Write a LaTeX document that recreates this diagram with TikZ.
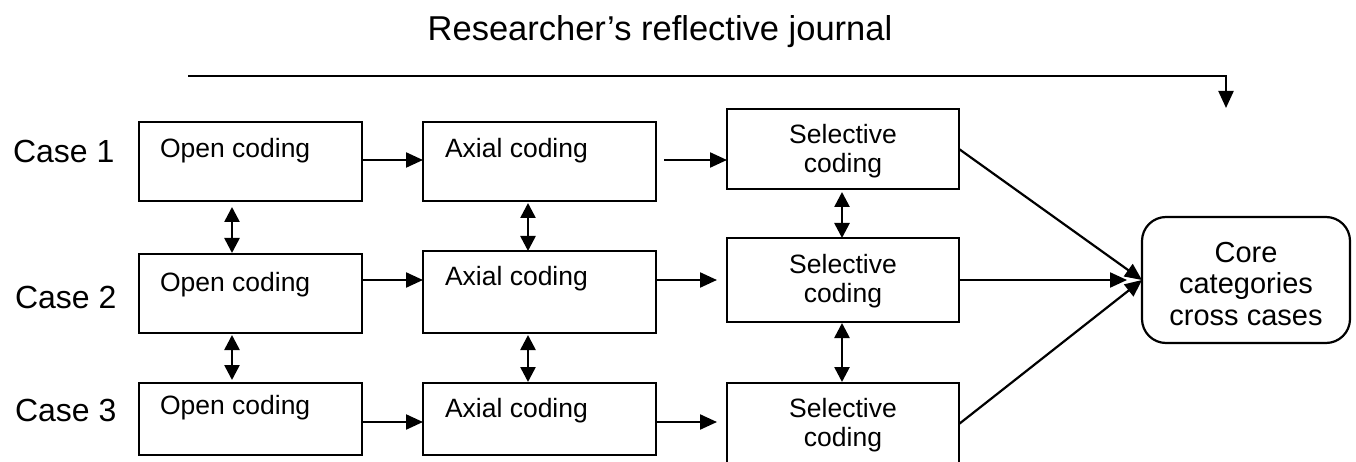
\documentclass[tikz,border=0pt]{standalone}
\usepackage{fontspec}
\setmainfont{Liberation Sans}
\usetikzlibrary{arrows.meta,calc}
\begin{document}
\begin{tikzpicture}[x=1pt,y=-1pt,
  every node/.style={outer sep=0pt},
  box/.style={draw, line width=2.2pt, inner sep=0pt, anchor=north west},
  boxtext/.style={font=\fontsize{26.5}{29}\selectfont, anchor=base west, inner sep=0pt},
  seltext/.style={font=\fontsize{26.5}{29}\selectfont, align=center, inner sep=0pt},
  casetext/.style={font=\fontsize{32}{34}\selectfont, anchor=base west, inner sep=0pt},
  arr/.style={line width=2.2pt, -{Triangle[length=17pt,width=15pt]}},
  darr/.style={line width=2.6pt, dash pattern=on 1.2pt off 0.8pt, {Triangle[length=15pt,width=15pt]}-{Triangle[length=15pt,width=15pt]}}
]
\useasboundingbox (0,0) rectangle (1356,462);

% title and journal line
\node[font=\fontsize{34.5}{37}\selectfont, anchor=base, inner sep=0pt] (title) at (660,41) {Researcher’s reflective journal};
\coordinate (js) at (188,76);
\coordinate (jc) at (1226,76);
\coordinate (je) at (1226,108);
\draw[line width=2.2pt, -{Triangle[length=17pt,width=15pt]}] (js) -- (jc) -- (je);

% case labels
\node[casetext] (case1) at (13,163) {Case 1};
\node[casetext] (case2) at (15,308) {Case 2};
\node[casetext] (case3) at (15,421) {Case 3};

% open coding boxes
\node[box, minimum width=223pt, minimum height=79pt] (o1) at (139,122) {};
\node[box, minimum width=223pt, minimum height=79pt] (o2) at (139,254) {};
\node[box, minimum width=223pt, minimum height=72pt] (o3) at (139,383) {};
\node[boxtext] (o1t) at ($(o1.north west)+(21,36)$) {Open coding};
\node[boxtext] (o2t) at ($(o2.north west)+(21,37)$) {Open coding};
\node[boxtext] (o3t) at ($(o3.north west)+(21,31)$) {Open coding};

% axial coding boxes
\node[box, minimum width=233pt, minimum height=79pt] (a1) at (423,122) {};
\node[box, minimum width=233pt, minimum height=82pt] (a2) at (423,251) {};
\node[box, minimum width=233pt, minimum height=72pt] (a3) at (423,383) {};
\node[boxtext] (a1t) at ($(a1.north west)+(22,36)$) {Axial coding};
\node[boxtext] (a2t) at ($(a2.north west)+(22,34)$) {Axial coding};
\node[boxtext] (a3t) at ($(a3.north west)+(22,34)$) {Axial coding};

% selective coding boxes
\node[box, minimum width=232pt, minimum height=80pt] (s1) at (727,109) {};
\node[box, minimum width=232pt, minimum height=84pt] (s2) at (727,238) {};
\node[box, minimum width=232pt, minimum height=82pt] (s3) at (727,383) {};
\node[seltext] (s1t) at ($(s1.center)+(0,2)$) {Selective\\coding};
\node[seltext] (s2t) at ($(s2.center)+(0,1)$) {Selective\\coding};
\node[seltext] (s3t) at ($(s3.center)+(0,1)$) {Selective\\coding};

% core categories
\node[draw, line width=2.2pt, rounded corners=24pt, minimum width=208pt, minimum height=126pt, anchor=north west] (core) at (1142,217) {};
\node[font=\fontsize{29}{31.5}\selectfont, align=center, inner sep=0pt] (coret) at ($(core.center)+(0,4)$) {Core\\categories\\cross cases};

% row coordinates
\coordinate (r1) at (0,160);
\coordinate (r2) at (0,280);
\coordinate (r3) at (0,422);

% horizontal arrows: open -> axial
\draw[arr] (o1.east |- r1) -- (a1.west |- r1);
\draw[arr] (o2.east |- r2) -- (a2.west |- r2);
\draw[arr] (o3.east |- r3) -- (a3.west |- r3);
% axial -> selective
\draw[arr] ($(a1.east |- r1)+(8,0)$) -- (s1.west |- r1);
\draw[arr] ($(a2.east |- r2)+(1,0)$) -- ($(s2.west |- r2)+(-10,0)$);
\draw[arr] ($(a3.east |- r3)+(1,0)$) -- ($(s3.west |- r3)+(-10,0)$);

% vertical double arrows
\draw[darr] ($(o1.south west)+(93,6)$) -- ($(o2.north west)+(93,-1)$);
\draw[darr] ($(o2.south west)+(93,2)$) -- ($(o3.north west)+(93,-3)$);
\draw[darr] ($(a1.south west)+(105,2)$) -- ($(a2.north west)+(105,0)$);
\draw[darr] ($(a2.south west)+(105,2)$) -- ($(a3.north west)+(105,-1)$);
\draw[darr] ($(s1.south west)+(115,3)$) -- ($(s2.north west)+(115,0)$);
\draw[darr] ($(s2.south west)+(115,1)$) -- ($(s3.north west)+(115,-1)$);

% to core
\draw[arr] (s1.east) -- (core.west);
\draw[arr] (s2.east) -- ($(core.west)+(-15,0)$);
\draw[arr] (s3.east) -- (core.west);
\end{tikzpicture}
\end{document}
